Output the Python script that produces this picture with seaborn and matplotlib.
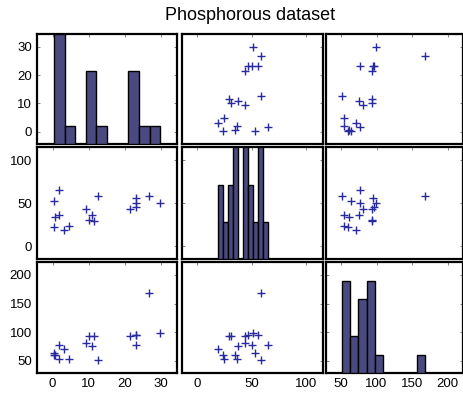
import matplotlib
matplotlib.use("Agg")
import matplotlib.pyplot as plt
import seaborn as sns
import numpy as np

# Phosphorous data (inorganic P, organic P, plant P)
x1 = [0.4, 0.4, 3.1, 0.6, 4.7, 1.7, 9.4, 10.1, 11.6, 12.6, 10.9, 23.1, 23.1, 21.6, 23.1, 1.9, 26.8, 29.9]
x2 = [53, 23, 19, 34, 24, 65, 44, 31, 29, 58, 37, 46, 50, 44, 56, 36, 58, 51]
y = [64, 60, 71, 61, 54, 77, 81, 93, 93, 51, 76, 96, 77, 93, 95, 54, 168, 99]

variables = [x1, x2, y]
limits = [(-4.4, 34.5), (-14.5, 115), (29, 222)]
ticks = [[0, 10, 20, 30], [0, 50, 100], [50, 100, 150, 200]]
hist_top = [6, 3, 6]  # count axis top of the hidden histogram axes

sns.set_style("white")
plt.rcParams["font.family"] = ["Liberation Sans", "DejaVu Sans"]
plt.rcParams["text.color"] = "black"

W, H = 464, 394
fig = plt.figure(figsize=(W / 100, H / 100), dpi=100)

col_edges = [(36.7, 176.7), (181.7, 322.7), (326.0, 463.3)]
row_edges = [(34.0, 144.3), (147.3, 259.0), (262.3, 373.0)]

mark_color = "#2a2aa0"
bar_color = "#4a4a80"

for i in range(3):
    for j in range(3):
        l, r = col_edges[j]
        t, b = row_edges[i]
        ax = fig.add_axes([l / W, 1 - b / H, (r - l) / W, (b - t) / H])
        ax.set_xlim(limits[j])
        ax.set_xticks(ticks[j])
        ax.set_ylim(limits[i])
        ax.set_yticks(ticks[i])
        if i == j:
            hax = ax.twinx()
            sns.histplot(x=variables[i], bins=10, ax=hax, color=bar_color, alpha=1,
                         edgecolor="black", linewidth=1.0)
            hax.set_ylim(0, hist_top[i])
            hax.set_xlim(limits[j])
            hax.set_yticks([])
            hax.set_ylabel("")
            for s in hax.spines.values():
                s.set_visible(False)
        else:
            sns.scatterplot(x=variables[j], y=variables[i], ax=ax, marker="+",
                            s=40, color=mark_color, linewidth=1.0)
        ax.tick_params(direction="in", length=2.5, width=0.5, labelsize=9.5,
                       top=True, right=True, color="#555555", labelcolor="black")
        if j != 0:
            ax.set_yticklabels([])
        if i != 2:
            ax.set_xticklabels([])
        for s in ax.spines.values():
            s.set_linewidth(1.6)
            s.set_color("black")

fig.text(250 / W, 1 - 15 / H, "Phosphorous dataset", ha="center", va="center",
         fontsize=13, color="black")

fig.savefig("out.png", dpi=100)
